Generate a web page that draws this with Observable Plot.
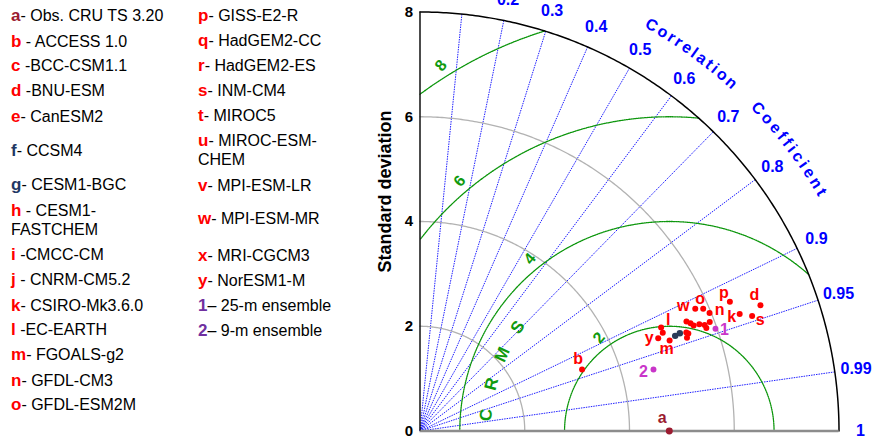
<!DOCTYPE html>
<html>
<head>
<meta charset="utf-8">
<script src="https://cdn.jsdelivr.net/npm/d3@7"></script>
<script src="https://cdn.jsdelivr.net/npm/@observablehq/plot@0.6"></script>
<style>
  html, body { margin: 0; padding: 0; background: #fff; }
  #page { position: relative; width: 872px; height: 438px; overflow: hidden;
          font-family: "Liberation Sans", Arial, sans-serif; }
  .entry { position: absolute; font-size: 16px; line-height: 19px; color: #000; white-space: pre; }
  .key { font-weight: bold; font-size: 17px; }
  #chart { position: absolute; left: 360px; top: 0; }
</style>
</head>
<body>
<div id="page">
  <div id="legend"></div>
  <div id="chart"></div>
</div>
<script>
// Taylor diagram: observed vs. CMIP5 models, standard deviation and correlation

const keys = ["a","b","c","d","e","f","g","h","i","j","k","l","m","n","o",
              "p","q","r","s","t","u","v","w","x","y","1","2"];

const entryText = [
  "- Obs. CRU TS 3.20", " - ACCESS 1.0", " -BCC-CSM1.1", " -BNU-ESM", "- CanESM2",
  "- CCSM4", "- CESM1-BGC", " - CESM1-\nFASTCHEM", " -CMCC-CM", " - CNRM-CM5.2",
  "- CSIRO-Mk3.6.0", " -EC-EARTH", "- FGOALS-g2", "- GFDL-CM3", "- GFDL-ESM2M",
  "- GISS-E2-R", "- HadGEM2-CC", "- HadGEM2-ES", "- INM-CM4", "- MIROC5",
  "- MIROC-ESM-\nCHEM", "- MPI-ESM-LR", "- MPI-ESM-MR", "- MRI-CGCM3", "- NorESM1-M",
  "\u2013 25-m ensemble", "\u2013 9-m ensemble"
];

const kinds = ["obs","model","model","model","model","ccsm","ccsm","model","model","model",
               "model","model","model","model","model","model","model","model","model","model",
               "model","model","model","model","model","ens","ens"];

const stdDev = [4.76, 3.31, 5.50, 6.93, 5.60, 5.20, 5.30, 5.71, 5.81, 5.91,
                6.50, 5.01, 5.07, 5.97, 5.89, 6.41, 5.42, 5.40, 6.71, 5.00,
                5.56, 5.80, 5.75, 5.45, 4.88, 5.97, 4.61];

const correlation = [1.000, 0.935, 0.925, 0.938, 0.933, 0.937, 0.936, 0.934, 0.941, 0.936,
                     0.939, 0.919, 0.940, 0.926, 0.918, 0.923, 0.938, 0.944, 0.945, 0.927,
                     0.929, 0.937, 0.914, 0.940, 0.932, 0.945, 0.967];

// keys that carry a text label beside their marker
const labelledKeys = ["a","b","d","k","l","m","n","o","p","s","w","y","1","2"];

const stdTicks = [0, 2, 4, 6, 8];
const corrTicks = [0.1, 0.2, 0.3, 0.4, 0.5, 0.6, 0.7, 0.8, 0.9, 0.95, 0.99, 1];
const corrTickLabels = ["0.2","0.3","0.4","0.5","0.6","0.7","0.8","0.9","0.95","0.99","1"];
const rmsLevels = [2, 4, 6, 8];
const rmsTickLabels = ["2", "4", "6", "8"];
const rmsTitle = ["C", "R", "M", "S"];
const corrTitleWords = ["Correlation", "Coefficient"];

// ---------- styling ----------
const FONT = "'Liberation Sans', Arial, sans-serif";
const kindColor = { obs: "#9b1b30", model: "#ff0000", ccsm: "#2b3a58", ens: "#c935c9" };
const legendKeyColor = { obs: "#9b1b30", model: "#ff0000", ccsm: "#1f3864", ens: "#7030a0" };
const kindRadius = { obs: 4.2, model: 3.1, ccsm: 3.6, ens: 3 };
const labelOffset = {
  a: [-7, -13], b: [-4, -11], d: [-6, -10], k: [-8, 3], l: [7, -8], m: [-3, 8],
  n: [10, -3], o: [-3, -10], p: [-6, -9], s: [8, 4], w: [-12, -3], y: [-9, 0],
  "1": [9, 1], "2": [-10, 2]
};

// ---------- legend ----------
const legendCol1 = [15.7, 41.7, 65.7, 90.7, 116, 150, 184.3, 210.7, 254.3, 279.3, 305, 329.3, 354.3, 380, 404];
const legendCol2 = [15.7, 40.7, 65.7, 90, 115, 140, 185, 218, 255, 280, 305, 330];
const legend = document.getElementById("legend");
keys.forEach((k, i) => {
  const col = i < 15 ? 0 : 1;
  const mid = col === 0 ? legendCol1[i] : legendCol2[i - 15];
  const left = (col === 0 ? 11 : 198) + "px";
  const [first, ...rest] = entryText[i].split("\n");
  const div = document.createElement("div");
  div.className = "entry";
  div.style.left = left;
  div.style.top = (mid - 9.5) + "px";
  const key = document.createElement("span");
  key.className = "key";
  key.style.color = legendKeyColor[kinds[i]];
  key.textContent = k;
  div.appendChild(key);
  div.appendChild(document.createTextNode(first));
  legend.appendChild(div);
  rest.forEach((line, j) => {
    const cont = document.createElement("div");
    cont.className = "entry";
    cont.style.left = left;
    cont.style.top = (mid - 9.5 + 19 * (j + 1)) + "px";
    cont.textContent = line;
    legend.appendChild(cont);
  });
});

// ---------- geometry helpers ----------
const W = 512, H = 438;
const mL = 59.5, mR = 33.5, mT = 11.5, mB = 7.5;
const pxPerUnit = (W - mL - mR) / 8;
const rMax = d3.max(stdTicks);
const obsStd = stdDev[kinds.indexOf("obs")];
const toRad = Math.PI / 180;

function arc(cx, r, a0, a1, id) {
  const pts = [];
  const n = Math.max(2, Math.ceil(Math.abs(a1 - a0) / 0.4));
  for (let j = 0; j <= n; j++) {
    const a = a0 + (a1 - a0) * j / n;
    pts.push({ id, x: cx + r * Math.cos(a * toRad), y: r * Math.sin(a * toRad) });
  }
  return pts;
}

// standard deviation arcs (grey) and outer boundary
const stdArcs = stdTicks.filter(r => r > 0 && r < rMax).flatMap(r => arc(0, r, 0, 90, r));
const outerArc = arc(0, rMax, 0, 90, "outer");

// centred RMS difference arcs around the observation, clipped to the quadrant
const rmsArcs = rmsLevels.flatMap(r => {
  let a0 = 0, a1 = 180;
  if (r > rMax - obsStd) {
    const xi = (rMax * rMax - r * r + obsStd * obsStd) / (2 * obsStd);
    a0 = Math.acos((xi - obsStd) / r) / toRad;
  }
  if (r > obsStd) a1 = Math.acos(-obsStd / r) / toRad;
  return arc(obsStd, r, a0, a1, r);
});

const rmsLabelAngle = [127, 129, 130, 122];
const rmsLabels = rmsLevels.map((r, i) => ({
  text: rmsTickLabels[i],
  x: obsStd + (r + 0.23) * Math.cos(rmsLabelAngle[i] * toRad),
  y: (r + 0.23) * Math.sin(rmsLabelAngle[i] * toRad)
}));
const rmsTitleLetters = rmsTitle.map((ch, i) => {
  const a = 175 - 9.8 * i;
  return { text: ch, x: obsStd + 3.51 * Math.cos(a * toRad), y: 3.51 * Math.sin(a * toRad), rotate: -(a - 90) };
});

// "Correlation Coefficient" set letter by letter along an outer arc
const ctx = document.createElement("canvas").getContext("2d");
ctx.font = "bold 16px " + FONT;
function textOnArc(str, radius, midDeg, spacing) {
  const chars = [...str];
  const w = chars.map(c => ctx.measureText(c).width);
  const total = d3.sum(w) + spacing * (chars.length - 1);
  let s = -total / 2;
  return chars.map((c, i) => {
    const centre = s + w[i] / 2;
    s += w[i] + spacing;
    const a = midDeg - (centre / (radius * pxPerUnit)) / toRad;
    return { text: c, x: radius * Math.cos(a * toRad), y: radius * Math.sin(a * toRad), rotate: 90 - a };
  });
}
const titleLetters = [
  ...textOnArc(corrTitleWords[0], 8.92, 54.3, 2.4),
  ...textOnArc(corrTitleWords[1], 8.92, 37.4, 3.1)
];

// labelled correlation ticks (the 0.1 label falls above the top edge)
const corrLabelled = corrTicks.slice(1);

// model markers
const points = keys.map((k, i) => ({
  key: k, kind: kinds[i], std: stdDev[i], r: correlation[i],
  x: stdDev[i] * correlation[i],
  y: stdDev[i] * Math.sqrt(Math.max(0, 1 - correlation[i] ** 2))
}));
const drawOrder = ["model", "ccsm", "ens", "obs"];
const ordered = drawOrder.flatMap(kd => points.filter(p => p.kind === kd));
const labelled = points.filter(p => labelledKeys.includes(p.key));

const chart = Plot.plot({
  width: W, height: H,
  marginLeft: mL, marginRight: mR, marginTop: mT, marginBottom: mB,
  x: { domain: [0, rMax], axis: null },
  y: { domain: [0, rMax] },
  style: { fontFamily: FONT, background: "transparent", overflow: "visible" },
  marks: [
    // correlation rays
    Plot.link(corrTicks.filter(c => c < 1), {
      x1: 0, y1: 0,
      x2: c => rMax * c, y2: c => rMax * Math.sqrt(1 - c * c),
      stroke: "#1f1fff", strokeWidth: 1, strokeDasharray: "1.5,1"
    }),
    Plot.line(stdArcs, { x: "x", y: "y", z: "id", stroke: "#b2b2b2", strokeWidth: 1.3 }),
    Plot.line(rmsArcs, { x: "x", y: "y", z: "id", stroke: "#0c960c", strokeWidth: 1.3, strokeDasharray: "1.3,1" }),
    Plot.line(outerArc, { x: "x", y: "y", stroke: "#000", strokeWidth: 1.5 }),
    Plot.ruleY([0], { x1: 0, x2: rMax, stroke: "#8c8c8c", strokeWidth: 2.5 }),
    Plot.ruleX([0], { y1: 0, y2: rMax, stroke: "#111", strokeWidth: 1.5 }),
    Plot.axisY({
      ticks: stdTicks, tickSize: 0, tickPadding: 7, label: null,
      fontSize: 15, fontWeight: "bold", fill: "#000", tickFormat: d => String(d)
    }),
    Plot.text(["Standard deviation"], {
      frameAnchor: "left", text: d => d, rotate: -90, dx: -35, dy: -30,
      textAnchor: "middle", lineAnchor: "middle",
      fontSize: 18, fontWeight: "bold", fill: "#000"
    }),
    // correlation tick labels
    Plot.text(corrLabelled, {
      x: c => 8.41 * c, y: c => 8.41 * Math.sqrt(1 - c * c),
      text: (c, i) => corrTickLabels[i],
      fill: "#0000ff", fontSize: 16, fontWeight: "bold"
    }),
    Plot.text(titleLetters, {
      x: "x", y: "y", text: "text", rotate: "rotate",
      fill: "#0000ff", fontSize: 16, fontWeight: "bold"
    }),
    // RMS labels
    Plot.text(rmsLabels, {
      x: "x", y: "y", text: "text", rotate: -50,
      fill: "#0f9a0f", fontSize: 16, fontWeight: "bold"
    }),
    Plot.text(rmsTitleLetters, {
      x: "x", y: "y", text: "text", rotate: "rotate",
      fill: "#0f9a0f", fontSize: 17, fontWeight: "bold"
    }),
    // markers
    Plot.dot(ordered, {
      x: "x", y: "y", r: d => kindRadius[d.kind],
      fill: d => kindColor[d.kind], stroke: "none"
    }),
    ...labelled.map(p => Plot.text([p], {
      x: "x", y: "y", text: "key",
      dx: labelOffset[p.key][0], dy: labelOffset[p.key][1],
      fill: kindColor[p.kind], fontSize: 16, fontWeight: "bold"
    }))
  ]
});
document.getElementById("chart").appendChild(chart);
</script>
</body>
</html>
